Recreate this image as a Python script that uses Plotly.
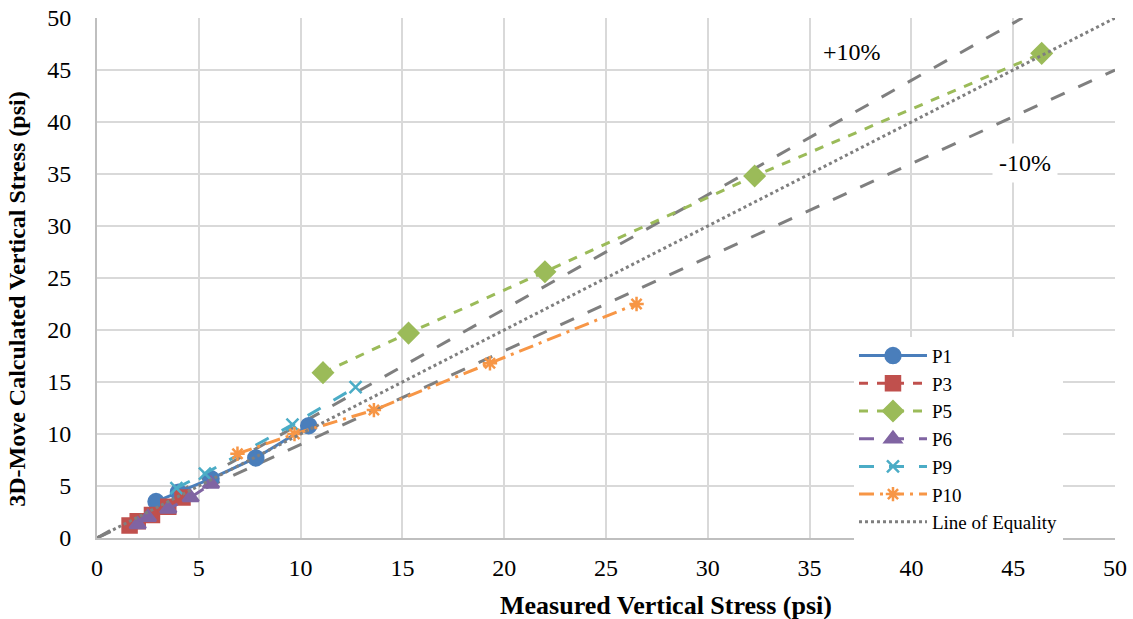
import plotly.graph_objects as go

# Data (measured x, calculated y)
p1_x = [2.9, 4.0, 5.6, 7.8, 10.4]
p1_y = [3.5, 4.4, 5.7, 7.7, 10.8]
p3_x = [1.6, 2.0, 2.7, 3.5, 4.2]
p3_y = [1.2, 1.6, 2.2, 3.0, 3.9]
p5_x = [11.1, 15.3, 22.0, 32.3, 46.4]
p5_y = [15.9, 19.7, 25.6, 34.8, 46.6]
p6_x = [2.0, 2.5, 3.5, 4.6, 5.6]
p6_y = [1.3, 2.0, 2.8, 3.9, 5.2]
p9_x = [3.9, 5.3, 9.6, 12.7]
p9_y = [4.8, 6.2, 10.9, 14.5]
p10_x = [6.9, 9.7, 13.6, 19.3, 26.5]
p10_y = [8.1, 10.0, 12.3, 16.8, 22.5]
eq_x = [0, 50]
eq_y = [0, 50]
plus_x = [0, 45.45]
plus_y = [0, 50]
minus_x = [0, 50]
minus_y = [0, 45]

FONT = "Liberation Serif"
grey = "#7f7f7f"
fig = go.Figure()

fig.add_trace(go.Scatter(x=plus_x, y=plus_y, mode="lines", showlegend=False,
                         line=dict(color=grey, width=3, dash="longdash")))
fig.add_trace(go.Scatter(x=minus_x, y=minus_y, mode="lines", showlegend=False,
                         line=dict(color=grey, width=3, dash="longdash")))

series = [
    ("P1", p1_x, p1_y, "#4a7ebb", "solid", "circle", 15),
    ("P3", p3_x, p3_y, "#c0504d", "dash", "square", 14),
    ("P5", p5_x, p5_y, "#9bbb59", "dash", "diamond", 15),
    ("P6", p6_x, p6_y, "#8064a2", "longdash", "triangle-up", 14),
    ("P9", p9_x, p9_y, "#4bacc6", "longdash", "x-thin-open", 12),
    ("P10", p10_x, p10_y, "#f79646", "longdashdot", "asterisk-open", 12),
]
for name, xs, ys, col, dash, sym, sz in series:
    fig.add_trace(go.Scatter(
        x=xs, y=ys, mode="lines+markers", name=name,
        line=dict(color=col, width=3, dash=dash),
        marker=dict(symbol=sym, size=sz, color=col,
                    line=dict(color=col, width=2.5))))

fig.add_trace(go.Scatter(x=eq_x, y=eq_y, mode="lines", name="Line of Equality",
                         line=dict(color=grey, width=3, dash="dot")))

fig.add_annotation(x=37.1, y=46.7, text="+10%", showarrow=False,
                   font=dict(family=FONT, size=24, color="black"))
fig.add_annotation(x=45.6, y=36.1, text="-10%", showarrow=False, bgcolor="white",
                   borderpad=6,
                   font=dict(family=FONT, size=24, color="black"))

# Axis titles (positioned as in the reference, off-centre)
fig.add_annotation(xref="paper", yref="paper", x=0.559, y=-0.129,
                   xanchor="center", yanchor="middle", showarrow=False,
                   text="<b>Measured Vertical Stress (psi)</b>",
                   font=dict(family=FONT, size=26, color="black"))
fig.add_annotation(xref="paper", yref="paper", x=-0.0786, y=0.46,
                   xanchor="center", yanchor="middle", showarrow=False, textangle=-90,
                   text="<b>3D-Move Calculated Vertical Stress (psi)</b>",
                   font=dict(family=FONT, size=24, color="black"))

axis_common = dict(range=[0, 50], dtick=5, showgrid=True, gridcolor="#d9d9d9",
                   gridwidth=2, showline=True, linecolor="#bfbfbf", linewidth=2,
                   zeroline=False, ticks="", automargin=False,
                   tickfont=dict(family=FONT, size=24, color="black"))

fig.update_layout(
    width=1133, height=619,
    margin=dict(l=97, r=18, t=18, b=81),
    plot_bgcolor="white", paper_bgcolor="white",
    font=dict(family=FONT, size=20, color="black"),
    xaxis=dict(**axis_common, ticklabelstandoff=7),
    yaxis=dict(**axis_common, ticklabelstandoff=19),
    legend=dict(x=0.7436, y=0.387, xanchor="left", yanchor="top", bgcolor="white",
                font=dict(family=FONT, size=19), itemwidth=68,
                tracegroupgap=0),
)

fig.write_html("out.html", config={"displayModeBar": False},
               post_script="document.body.style.margin='0';document.body.style.overflow='hidden';")
